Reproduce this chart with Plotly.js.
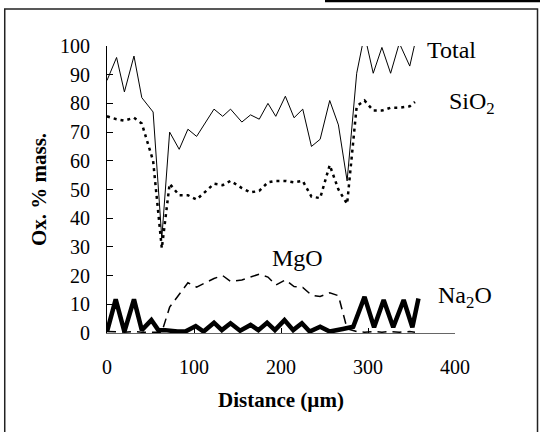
<!DOCTYPE html>
<html>
<head>
<meta charset="utf-8">
<script src="https://cdn.plot.ly/plotly-3.0.1.min.js"></script>
<style>
  html, body { margin: 0; padding: 0; background: #fff; }
  #chart { width: 540px; height: 432px; }
</style>
</head>
<body>
<div id="chart"></div>
<script>
// Distance positions (µm) shared by Total, SiO2 and MgO
const xPos = [0, 11, 20, 31, 40, 53, 63, 72, 83, 93, 103, 123, 133, 142, 155, 165, 175, 185, 194, 205, 215, 225, 235, 245, 256, 266, 276, 287, 296, 306, 316, 326, 336, 348, 354];
const total = [88, 96, 84, 96.5, 82, 77, 33, 70, 64, 71, 68.5, 78, 75.5, 78, 73.5, 76, 74.5, 80, 75.5, 82.5, 75, 78, 65, 67.5, 81, 72.5, 53, 90.5, 104, 90.5, 99.5, 90.5, 101, 93, 101];
const sio2 = [75.5, 74.5, 74, 75, 73, 60, 29.5, 52, 48, 48, 46.5, 52, 51.5, 53, 50.5, 49, 49.5, 52.5, 53, 53, 52.5, 53, 47.5, 47, 58.5, 50, 45, 79, 81, 77.5, 77.5, 78.5, 78.5, 79, 80.5];
const mgo = [0.5, 0.3, 0.3, 0.5, 0.3, 0.3, 0.3, 9, 13.5, 17.5, 16, 19, 20, 18, 18.5, 19.5, 20.5, 19.5, 16.7, 18.5, 16.2, 15.9, 13.2, 12.7, 14, 13, 1.5, 0.5, 0.3, 0.5, 0.3, 0.5, 0.3, 0.5, 0.3];
// Na2O positions and values
const xNa = [0, 10, 20, 31, 40, 51, 59, 67, 81, 90, 102, 111, 123, 132, 142, 153, 165, 174, 184, 193, 204, 214, 224, 233, 245, 256, 271, 283, 296, 307, 318, 329, 341, 351, 358];
const na2o = [0.5, 11.7, 0.5, 11.7, 1, 4.5, 1, 1, 0.5, 0.5, 2.4, 0.5, 3.6, 1, 3.4, 0.8, 2.8, 1, 3.6, 1, 4.5, 1, 3.4, 0.5, 2.2, 0.5, 1.4, 2.2, 12.6, 2, 11.5, 2, 11.5, 2, 12];

const xTicks = [0, 100, 200, 300, 400];
const yTicks = [0, 10, 20, 30, 40, 50, 60, 70, 80, 90, 100];

const seriesLabels = [
  { text: 'Total', x: 365, y: 98.6 },
  { text: 'SiO<sub>2</sub>', x: 391, y: 80 },
  { text: 'MgO', x: 187, y: 26 },
  { text: 'Na<sub>2</sub>O', x: 378, y: 12.5 }
];

const FONT = 'Liberation Serif, Times New Roman, serif';

const traces = [
  { x: xPos, y: total, type: 'scatter', mode: 'lines', name: 'Total',
    line: { color: '#000', width: 1 } },
  { x: xPos, y: sio2, type: 'scatter', mode: 'lines', name: 'SiO2',
    line: { color: '#000', width: 2.5, dash: '3px,4px' } },
  { x: xPos, y: mgo, type: 'scatter', mode: 'lines', name: 'MgO',
    line: { color: '#000', width: 1.5, dash: '9px,6px' } },
  { x: xNa, y: na2o, type: 'scatter', mode: 'lines', name: 'Na2O',
    line: { color: '#000', width: 4.5 } }
];

const layout = {
  width: 540, height: 432,
  margin: { l: 106.5, r: 84.7, t: 46, b: 99 },
  paper_bgcolor: '#fff', plot_bgcolor: '#fff',
  showlegend: false,
  font: { family: FONT, color: '#000', size: 20 },
  xaxis: {
    range: [0, 400], tickvals: xTicks, ticks: 'inside', ticklen: 5, tickcolor: '#000',
    showline: true, linecolor: '#666', linewidth: 1, showgrid: false, zeroline: false,
    tickfont: { family: FONT, size: 20 }, ticklabelstandoff: 16,
    title: { text: '<b>Distance (µm)</b>', font: { family: FONT, size: 21 }, standoff: 15 }
  },
  yaxis: {
    range: [0, 100], tickvals: yTicks, ticks: 'inside', ticklen: 6, tickcolor: '#000',
    showline: true, linecolor: '#000', linewidth: 1, showgrid: false, zeroline: false,
    tickfont: { family: FONT, size: 20 }, ticklabelstandoff: 12,
    title: { text: '<b>Ox. % mass.</b>', font: { family: FONT, size: 21 }, standoff: 7 }
  },
  annotations: seriesLabels.map(l => ({
    text: l.text, x: l.x, y: l.y, xref: 'x', yref: 'y',
    xanchor: 'left', yanchor: 'middle', showarrow: false,
    font: { family: FONT, size: 24, color: '#000' }
  })),
  shapes: [
    { type: 'rect', xref: 'paper', yref: 'paper',
      x0: (4 - 106.5) / 348.8, x1: (538 - 106.5) / 348.8,
      y0: (333 - 445) / 287, y1: (333 - 9) / 287,
      line: { color: '#222', width: 1.5 }, fillcolor: 'rgba(0,0,0,0)' },
    { type: 'line', xref: 'paper', yref: 'paper',
      x0: (325 - 106.5) / 348.8, x1: (545 - 106.5) / 348.8,
      y0: (333 - 1) / 287, y1: (333 - 1) / 287,
      line: { color: '#000', width: 2.5 } }
  ]
};

Plotly.newPlot('chart', traces, layout, { staticPlot: true, displayModeBar: false });
</script>
</body>
</html>
